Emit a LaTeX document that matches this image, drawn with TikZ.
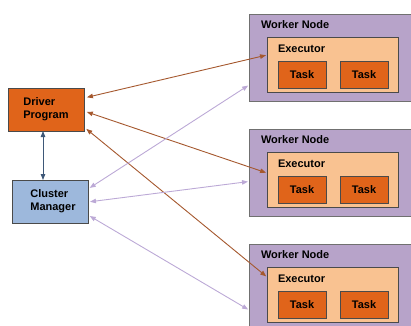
\documentclass[tikz,border=0pt]{standalone}
\usepackage{fontspec}
\setmainfont{Liberation Sans}
\usetikzlibrary{arrows.meta}
\definecolor{drvorange}{HTML}{E0641A}
\definecolor{cmblue}{HTML}{9DB8DC}
\definecolor{wkpurple}{HTML}{B7A3C9}
\definecolor{exppeach}{HTML}{F9C291}
\definecolor{boxline}{HTML}{4A4A4A}
\definecolor{wkline}{HTML}{707070}
\definecolor{brownlink}{HTML}{A5582E}
\definecolor{lavlink}{HTML}{BCA9D6}
\definecolor{bluelink}{HTML}{3E5878}
\begin{document}
\begin{tikzpicture}[x=1pt,y=-1pt,
  >={Triangle[length=6pt,width=4.5pt]},
  every node/.style={font=\fontsize{11}{13}\selectfont\bfseries, inner sep=0pt, outer sep=0pt},
  mainbox/.style={draw=boxline, line width=0.9pt, anchor=north west, align=left},
  workerbox/.style={draw=wkline, fill=wkpurple, line width=0.9pt, anchor=north west, minimum width=170, minimum height=87},
  execbox/.style={draw=boxline, fill=exppeach, line width=0.9pt, anchor=north west, minimum width=131, minimum height=55},
  taskbox/.style={draw=boxline, fill=drvorange, line width=0.9pt, minimum width=48, minimum height=27},
  drvlink/.style={draw=brownlink, line width=0.9pt, <->, shorten <=3pt, shorten >=1pt},
  cmlink/.style={draw=lavlink, line width=0.9pt, <->, shorten <=2pt, shorten >=1pt}
]
\useasboundingbox (0,0) rectangle (411,325);

% driver and cluster manager
\node[mainbox, fill=drvorange, minimum width=76, minimum height=43] (driver) at (8,88) {};
\node[align=left] at (driver.center) {Driver\\Program};
\node[mainbox, fill=cmblue, minimum width=76, minimum height=43] (cm) at (12,180) {};
\node[align=left] at ([xshift=3]cm.center) {Cluster\\Manager};

% worker nodes with executor and two tasks each
\foreach \i/\y in {1/14, 2/129, 3/244} {
  \node[workerbox] (w\i) at (249,\y) {};
  \node[anchor=west] at (261,\y+11) {Worker Node};
  \node[execbox] (e\i) at (267,\y+23) {};
  \node[anchor=west] at (278,\y+35) {Executor};
  \node[taskbox, anchor=north west] (t\i a) at (278,\y+47) {Task};
  \node[taskbox, anchor=north west] (t\i b) at (340,\y+47) {Task};
}

% driver <-> executors
\draw[drvlink] ([yshift=11.5]driver.east) -- ([yshift=9.5]e1.west);
\draw[drvlink] ([yshift=-1.5]driver.east) -- ([yshift=6.5]e2.west);
\draw[drvlink] ([yshift=-17.5]driver.east) -- ([yshift=17.5]e3.west);

% cluster manager <-> workers
\draw[cmlink] ([yshift=12.5]cm.east) -- ([yshift=-27.5]w1.west);
\draw[cmlink] ([yshift=-0.5]cm.east) -- ([yshift=-9]w2.west);
\draw[cmlink] ([yshift=-13.5]cm.east) -- ([yshift=-22.5]w3.west);

% driver <-> cluster manager
\draw[draw=bluelink, line width=0.9pt, <->] ([xshift=-3]driver.south) -- ([xshift=-3]driver.south |- cm.north);
\end{tikzpicture}
\end{document}
